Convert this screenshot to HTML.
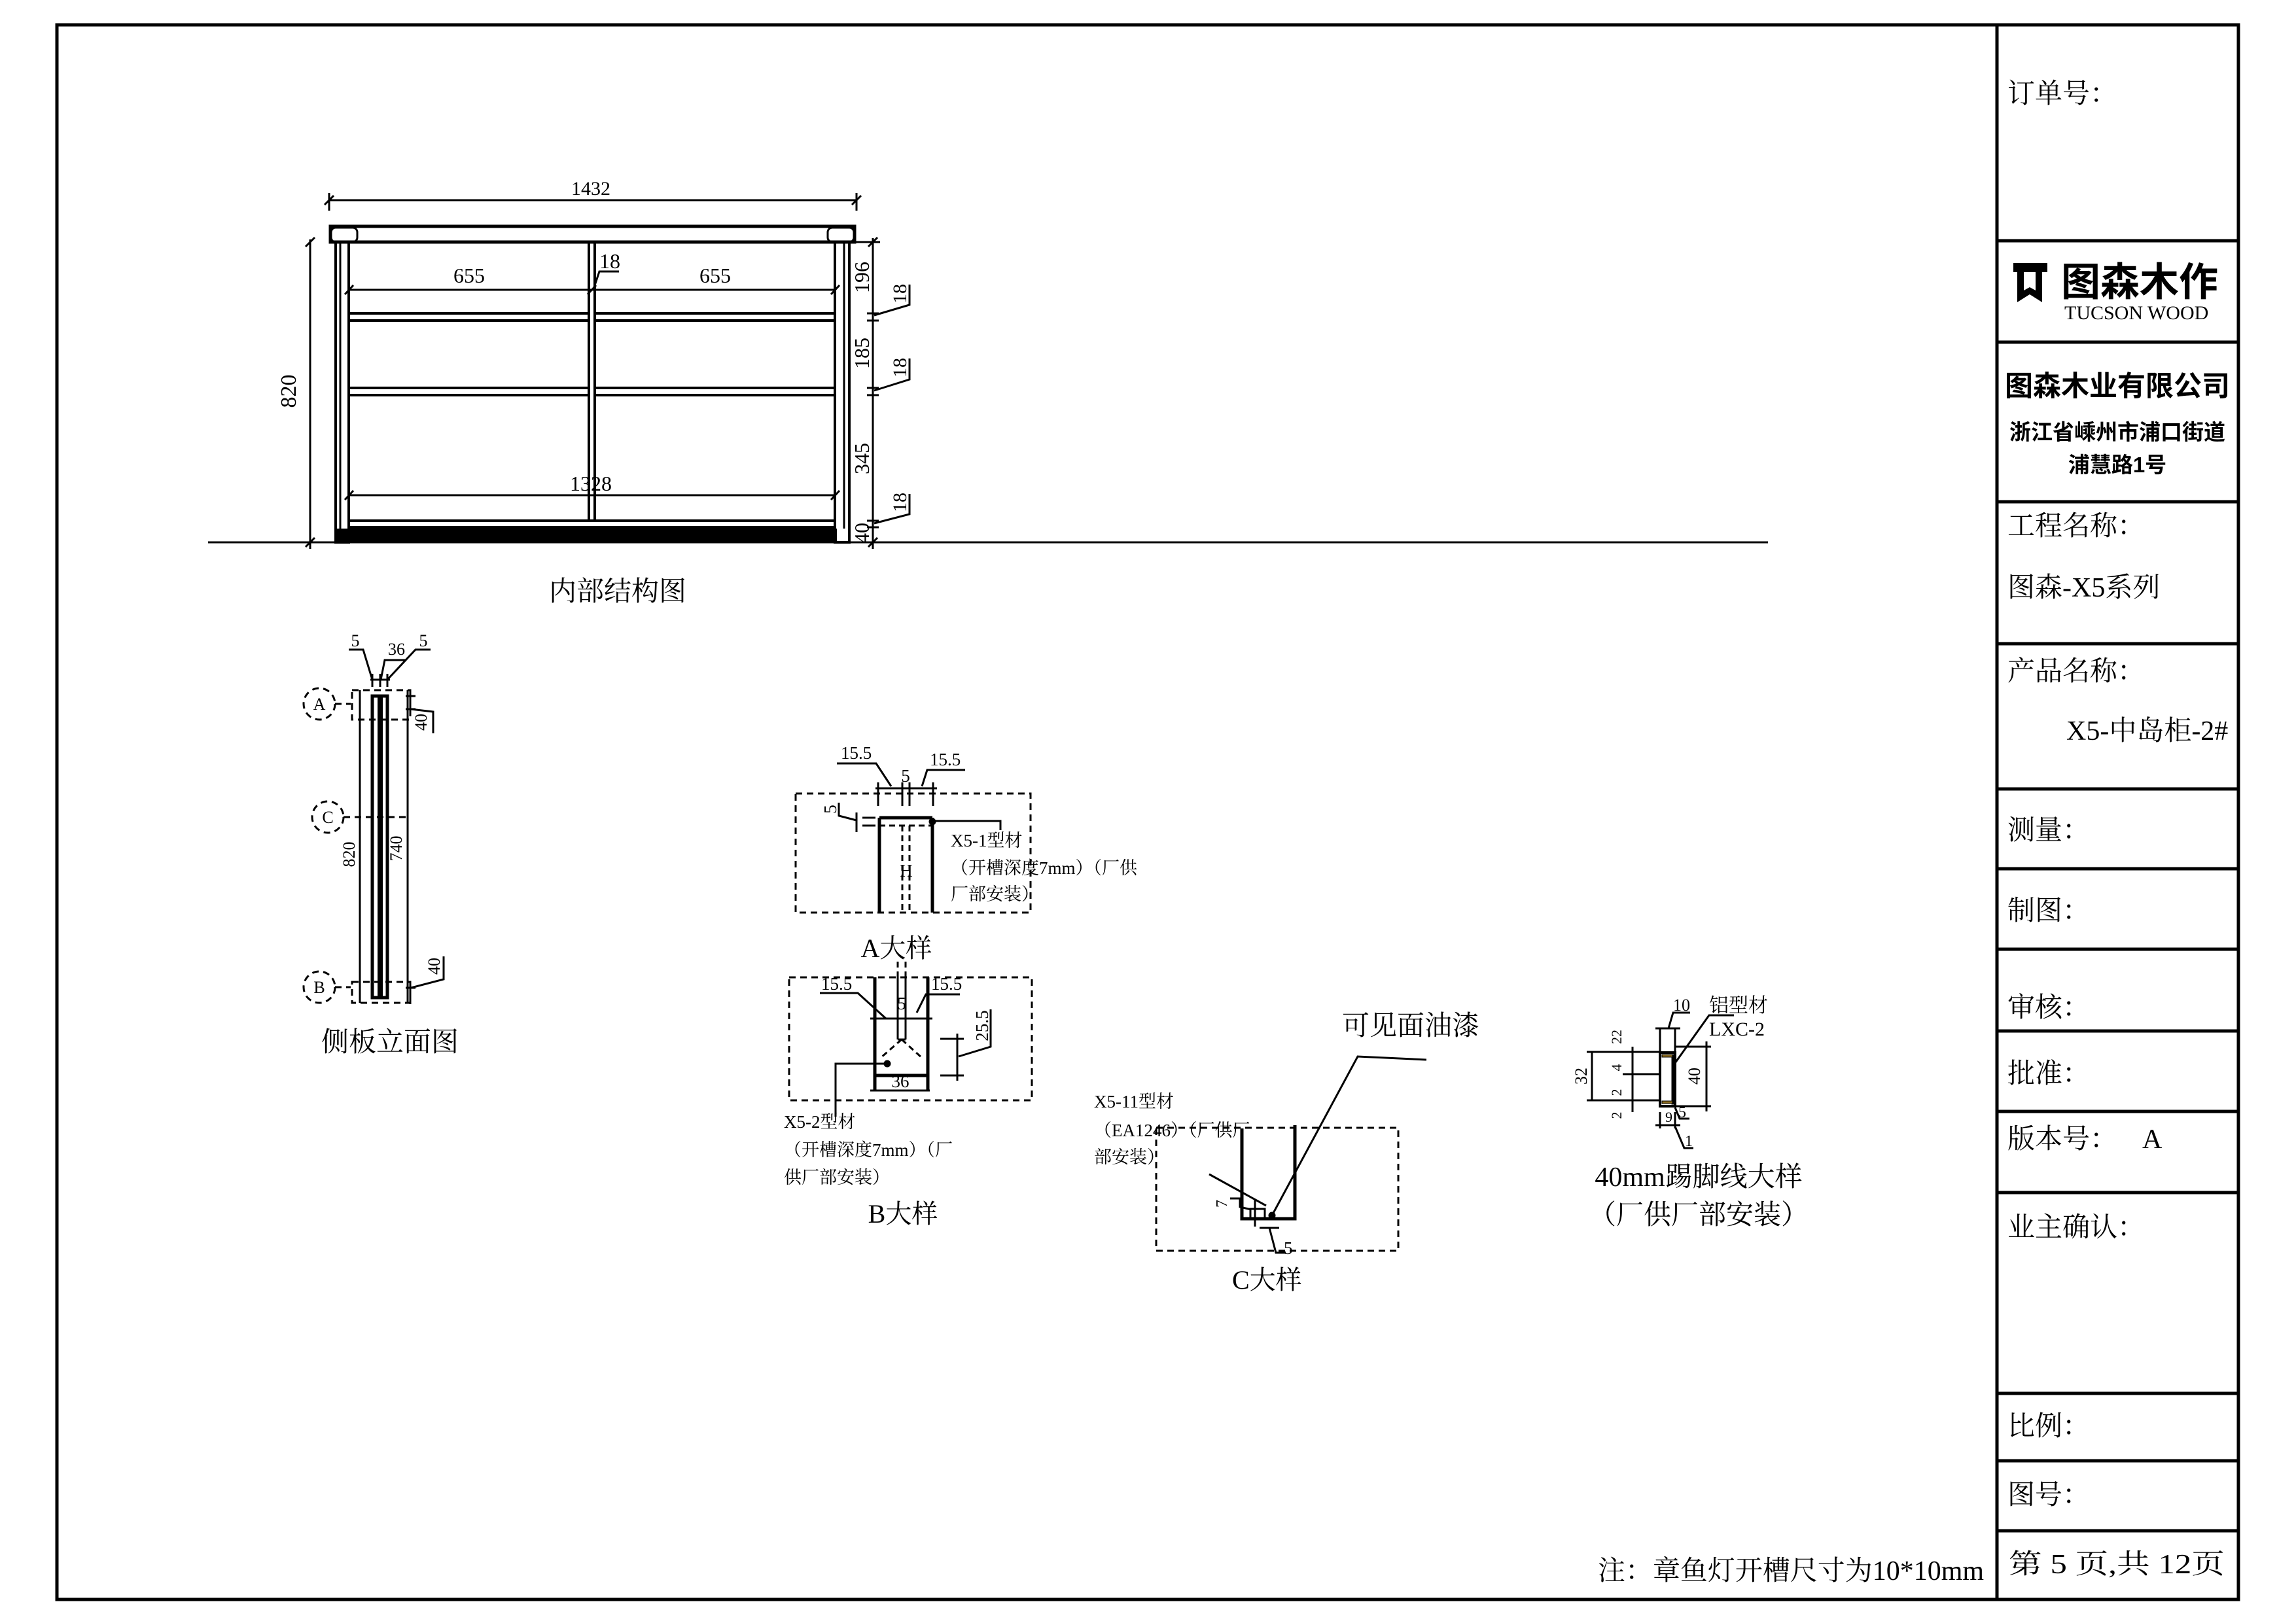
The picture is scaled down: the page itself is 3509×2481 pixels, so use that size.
<!DOCTYPE html>
<html><head><meta charset="utf-8"><style>
html,body{margin:0;padding:0;background:#fff;}
svg{display:block;}
text{font-family:"Liberation Serif","Noto Serif CJK SC",serif;fill:#000;}
.b{font-family:"Liberation Sans","Noto Sans CJK SC",sans-serif;font-weight:bold;}
</style></head><body>
<svg width="3509" height="2481" viewBox="0 0 3509 2481" xmlns="http://www.w3.org/2000/svg">
<rect width="3509" height="2481" fill="#fff"/>
<g fill="none" stroke="#000">
<rect x="87" y="38" width="3334" height="2407" stroke-width="5"/>
<line x1="3052" y1="38" x2="3052" y2="2445" stroke-width="5"/>
<g stroke-width="5">
<line x1="3052" y1="368" x2="3421" y2="368"/>
<line x1="3052" y1="523" x2="3421" y2="523"/>
<line x1="3052" y1="767" x2="3421" y2="767"/>
<line x1="3052" y1="984" x2="3421" y2="984"/>
<line x1="3052" y1="1206" x2="3421" y2="1206"/>
<line x1="3052" y1="1328" x2="3421" y2="1328"/>
<line x1="3052" y1="1451" x2="3421" y2="1451"/>
<line x1="3052" y1="1576" x2="3421" y2="1576"/>
<line x1="3052" y1="1699" x2="3421" y2="1699"/>
<line x1="3052" y1="1823" x2="3421" y2="1823"/>
<line x1="3052" y1="2130" x2="3421" y2="2130"/>
<line x1="3052" y1="2233" x2="3421" y2="2233"/>
<line x1="3052" y1="2340" x2="3421" y2="2340"/>
</g>

<!-- ===== main internal structure ===== -->
<g stroke-width="3">
<line x1="503" y1="306" x2="1309" y2="306"/>
<line x1="503" y1="295" x2="503" y2="322"/><line x1="1309" y1="295" x2="1309" y2="322"/>
<line x1="496" y1="313" x2="510" y2="299"/><line x1="1302" y1="313" x2="1316" y2="299"/>
<rect x="505" y="346" width="801" height="24" stroke-width="5"/>
<rect x="506" y="348" width="40" height="22" rx="7"/>
<rect x="1265" y="348" width="40" height="22" rx="7"/>
<rect x="513" y="370" width="20" height="459" stroke-width="4"/>
<line x1="520" y1="370" x2="520" y2="808"/>
<rect x="1276" y="370" width="22" height="459" stroke-width="4"/>
<line x1="1290" y1="370" x2="1290" y2="808"/>
<rect x="900" y="370" width="9" height="426" stroke-width="4"/>
<rect x="533" y="479" width="367" height="11" stroke-width="4"/><rect x="909" y="479" width="367" height="11" stroke-width="4"/>
<rect x="533" y="593" width="367" height="11" stroke-width="4"/><rect x="909" y="593" width="367" height="11" stroke-width="4"/>
<rect x="533" y="796" width="743" height="10" stroke-width="4"/>
<line x1="318" y1="829" x2="2702" y2="829"/>
<line x1="474" y1="366" x2="474" y2="839"/>
<line x1="467" y1="377" x2="481" y2="363"/><line x1="467" y1="836" x2="481" y2="822"/>
<line x1="533" y1="443" x2="1276" y2="443"/>
<line x1="527" y1="450" x2="540" y2="436"/><line x1="898" y1="450" x2="911" y2="436"/><line x1="1270" y1="450" x2="1283" y2="436"/>
<polyline points="907,442 916,415 946,415"/>
<line x1="533" y1="757" x2="1276" y2="757"/>
<line x1="527" y1="764" x2="540" y2="750"/><line x1="1270" y1="764" x2="1283" y2="750"/>
<line x1="1334" y1="364" x2="1334" y2="839"/>
<line x1="1300" y1="370" x2="1345" y2="370"/>
<line x1="1327" y1="377" x2="1341" y2="363"/>
<line x1="1325" y1="479" x2="1343" y2="479"/><line x1="1325" y1="490" x2="1343" y2="490"/>
<line x1="1325" y1="593" x2="1343" y2="593"/><line x1="1325" y1="604" x2="1343" y2="604"/>
<line x1="1325" y1="796" x2="1343" y2="796"/><line x1="1325" y1="806" x2="1343" y2="806"/>
<line x1="1327" y1="836" x2="1341" y2="822"/>
<polyline points="1336,482 1390,466 1390,435"/>
<polyline points="1336,597 1390,580 1390,548"/>
<polyline points="1336,800 1390,786 1390,755"/>
</g>
<rect x="513" y="808" width="766" height="21" fill="#000" stroke="none"/>

<!-- ===== side panel ===== -->
<g stroke-width="3">
<line x1="550" y1="1055" x2="550" y2="1533"/>
<line x1="623" y1="1055" x2="623" y2="1533"/>
<rect x="569" y="1064" width="23" height="461" stroke-width="5"/>
<rect x="577" y="1066" width="8" height="457" fill="#000" stroke="none"/>
<g stroke-dasharray="10,7">
<rect x="538" y="1055" width="89" height="45"/>
<rect x="538" y="1501" width="89" height="32"/>
<line x1="512" y1="1076" x2="536" y2="1076"/>
<line x1="525" y1="1249" x2="620" y2="1249"/>
<line x1="512" y1="1509" x2="536" y2="1509"/>
<circle cx="488" cy="1076" r="24"/>
<circle cx="501" cy="1249" r="24"/>
<circle cx="488" cy="1509" r="24"/>
</g>
<line x1="566" y1="1039" x2="596" y2="1039"/>
<line x1="569" y1="1030" x2="569" y2="1050"/><line x1="581" y1="1030" x2="581" y2="1050"/><line x1="592" y1="1030" x2="592" y2="1050"/>
<polyline points="533,993 555,993 569,1039"/>
<polyline points="582,1039 588,1009 620,1009"/>
<polyline points="592,1039 635,993 658,993"/>
<line x1="620" y1="1064" x2="635" y2="1064"/><line x1="620" y1="1084" x2="635" y2="1084"/>
<line x1="627" y1="1058" x2="627" y2="1092"/>
<polyline points="628,1084 662,1088 662,1121"/>
<line x1="620" y1="1510" x2="635" y2="1510"/><line x1="627" y1="1500" x2="627" y2="1535"/>
<polyline points="628,1510 678,1497 678,1462"/>
</g>

<!-- ===== A detail ===== -->
<g stroke-width="3">
<rect x="1216" y="1213" width="359" height="182" stroke-dasharray="10,7"/>
<line x1="1344" y1="1250" x2="1344" y2="1395" stroke-width="5"/>
<line x1="1425" y1="1250" x2="1425" y2="1395" stroke-width="5"/>
<line x1="1344" y1="1250" x2="1425" y2="1250" stroke-width="5"/>
<g stroke-dasharray="9,6">
<line x1="1344" y1="1262" x2="1425" y2="1262"/>
<line x1="1379" y1="1262" x2="1379" y2="1395"/>
<line x1="1390" y1="1262" x2="1390" y2="1395"/>
</g>
<line x1="1338" y1="1205" x2="1432" y2="1205"/>
<line x1="1342" y1="1196" x2="1342" y2="1232"/><line x1="1379" y1="1196" x2="1379" y2="1232"/><line x1="1390" y1="1196" x2="1390" y2="1232"/><line x1="1426" y1="1196" x2="1426" y2="1232"/>
<polyline points="1279,1167 1339,1167 1362,1202"/>
<polyline points="1475,1177 1417,1177 1409,1202"/>
<line x1="1318" y1="1250" x2="1338" y2="1250"/><line x1="1318" y1="1262" x2="1338" y2="1262"/>
<line x1="1309" y1="1242" x2="1309" y2="1272"/>
<polyline points="1309,1254 1282,1247 1282,1227"/>
<polyline points="1425,1255 1529,1255 1529,1269"/>
</g>
<circle cx="1425" cy="1256" r="5" fill="#000"/>

<!-- ===== B detail ===== -->
<g stroke-width="3">
<rect x="1206" y="1494" width="371" height="188" stroke-dasharray="10,7"/>
<line x1="1337" y1="1494" x2="1337" y2="1667" stroke-width="5"/>
<line x1="1418" y1="1494" x2="1418" y2="1667" stroke-width="5"/>
<line x1="1337" y1="1644" x2="1418" y2="1644" stroke-width="5"/>
<line x1="1372" y1="1494" x2="1372" y2="1589"/><line x1="1384" y1="1494" x2="1384" y2="1589"/><line x1="1372" y1="1589" x2="1384" y2="1589"/>
<g stroke-dasharray="9,6">
<line x1="1378" y1="1589" x2="1346" y2="1617"/>
<line x1="1378" y1="1589" x2="1409" y2="1617"/>
<line x1="1372" y1="1494" x2="1372" y2="1470"/><line x1="1384" y1="1494" x2="1384" y2="1470"/>
</g>
<line x1="1330" y1="1667" x2="1421" y2="1667"/>
<line x1="1330" y1="1557" x2="1425" y2="1557"/>
<polyline points="1253,1518 1311,1518 1354,1557"/>
<polyline points="1467,1520 1415,1520 1401,1548"/>
<line x1="1437" y1="1588" x2="1473" y2="1588"/><line x1="1437" y1="1644" x2="1473" y2="1644"/>
<line x1="1463" y1="1580" x2="1463" y2="1652"/>
<polyline points="1465,1615 1514,1600 1514,1543"/>
<polyline points="1356,1626 1277,1626 1277,1707"/>
</g>
<circle cx="1356" cy="1626" r="5" fill="#000"/>

<!-- ===== C detail ===== -->
<g stroke-width="3">
<rect x="1767" y="1724" width="370" height="188" stroke-dasharray="10,7"/>
<polyline points="1898,1725 1898,1863 1979,1863 1979,1720" stroke-width="5"/>
<rect x="1911" y="1848" width="22" height="15"/>
<line x1="1848" y1="1795" x2="1935" y2="1843"/>
<polyline points="1944,1858 2075,1615 2180,1620"/>
<line x1="1918" y1="1835" x2="1918" y2="1875"/>
<polyline points="1912,1849 1895,1845 1895,1832 1880,1832"/>
<line x1="1925" y1="1877" x2="1955" y2="1877"/>
<polyline points="1940,1877 1950,1915 1965,1915"/>
</g>
<circle cx="1944" cy="1858" r="5" fill="#000"/>

<!-- ===== Kick detail ===== -->
<g stroke-width="3">
<rect x="2537" y="1609" width="23" height="82" stroke-width="4"/>
<line x1="2537" y1="1572" x2="2537" y2="1609"/><line x1="2560" y1="1572" x2="2560" y2="1609"/>
<line x1="2530" y1="1572" x2="2568" y2="1572"/>
<polyline points="2550,1572 2557,1548 2583,1548"/>
<line x1="2433" y1="1608" x2="2433" y2="1682"/>
<line x1="2425" y1="1608" x2="2537" y2="1608"/>
<line x1="2425" y1="1682" x2="2537" y2="1682"/>
<line x1="2480" y1="1642" x2="2537" y2="1642"/>
<line x1="2495" y1="1600" x2="2495" y2="1700"/>
<line x1="2560" y1="1600" x2="2615" y2="1600"/><line x1="2560" y1="1691" x2="2615" y2="1691"/>
<line x1="2608" y1="1592" x2="2608" y2="1699"/>
<polyline points="2560,1625 2612,1552 2650,1552"/>
<line x1="2537" y1="1700" x2="2537" y2="1725"/><line x1="2560" y1="1700" x2="2560" y2="1725"/>
<line x1="2530" y1="1720" x2="2568" y2="1720"/>
<polyline points="2560,1722 2574,1755 2588,1755"/>
<polyline points="2560,1693 2567,1710 2582,1710"/>
</g>
<rect x="2555" y="1612" width="5" height="76" fill="#000"/>
<rect x="2540" y="1612" width="16" height="4" fill="#8a6a20"/>
<rect x="2540" y="1683" width="16" height="4" fill="#8a6a20"/>
</g>

<!-- logo -->
<path d="M3077 402 h52 v14 h-8 v46 l-19 -12 l-19 12 v-46 h-6 z M3093 416 v28 l9 -5 l9 5 v-28 z" fill="#000" fill-rule="evenodd"/>

<!-- ===== texts ===== -->
<g font-size="30">
<text x="903" y="298" text-anchor="middle">1432</text>
<text x="717" y="432" text-anchor="middle" font-size="32">655</text>
<text x="1093" y="432" text-anchor="middle" font-size="32">655</text>
<text x="916" y="410" font-size="32">18</text>
<text x="903" y="750" text-anchor="middle" font-size="32">1328</text>
<text transform="translate(452,598) rotate(-90)" text-anchor="middle" font-size="34">820</text>
<text transform="translate(1328,424) rotate(-90)" text-anchor="middle" font-size="32">196</text>
<text transform="translate(1328,540) rotate(-90)" text-anchor="middle" font-size="32">185</text>
<text transform="translate(1328,701) rotate(-90)" text-anchor="middle" font-size="32">345</text>
<text transform="translate(1328,815) rotate(-90)" text-anchor="middle" font-size="32">40</text>
<text transform="translate(1385,449) rotate(-90)" text-anchor="middle" font-size="30">18</text>
<text transform="translate(1385,562) rotate(-90)" text-anchor="middle" font-size="30">18</text>
<text transform="translate(1385,768) rotate(-90)" text-anchor="middle" font-size="30">18</text>
</g>
<text x="944" y="918" text-anchor="middle" font-size="42">内部结构图</text>

<g font-size="26">
<text x="543" y="988" text-anchor="middle">5</text><text x="606" y="1001" text-anchor="middle">36</text><text x="647" y="988" text-anchor="middle">5</text>
<text x="488" y="1085" text-anchor="middle">A</text>
<text x="501" y="1258" text-anchor="middle">C</text>
<text x="488" y="1518" text-anchor="middle">B</text>
<text transform="translate(542,1306) rotate(-90)" text-anchor="middle">820</text>
<text transform="translate(614,1297) rotate(-90)" text-anchor="middle">740</text>
<text transform="translate(652,1104) rotate(-90)" text-anchor="middle">40</text>
<text transform="translate(672,1477) rotate(-90)" text-anchor="middle">40</text>
</g>
<text x="596" y="1607" text-anchor="middle" font-size="42">侧板立面图</text>

<g font-size="27">
<text x="1285" y="1160">15.5</text><text x="1421" y="1170">15.5</text><text x="1384" y="1195" text-anchor="middle">5</text>
<text transform="translate(1278,1237) rotate(-90)" text-anchor="middle">5</text>
<text x="1385" y="1340" text-anchor="middle" font-family="Liberation Sans">H</text>
<text x="1453" y="1294">X5-1型材</text>
<text x="1453" y="1336">（开槽深度7mm）（厂供</text>
<text x="1453" y="1376">厂部安装）</text>
<text x="1255" y="1513">15.5</text><text x="1423" y="1513">15.5</text>
<text x="1378" y="1543" text-anchor="middle">5</text>
<text x="1376" y="1662" text-anchor="middle">36</text>
<text transform="translate(1510,1568) rotate(-90)" text-anchor="middle">25.5</text>
<text x="1198" y="1724">X5-2型材</text>
<text x="1198" y="1767">（开槽深度7mm）（厂</text>
<text x="1198" y="1809">供厂部安装）</text>
<text x="1672" y="1693">X5-11型材</text>
<text x="1672" y="1737">（EA1246）（厂供厂</text>
<text x="1672" y="1778">部安装）</text>
<text transform="translate(1875,1840) rotate(-90)" text-anchor="middle" font-size="24">7</text>
<text x="1962" y="1917">5</text>
</g>
<text x="1370" y="1463" text-anchor="middle" font-size="40">A大样</text>
<text x="1380" y="1869" text-anchor="middle" font-size="40">B大样</text>
<text x="1883" y="1970" font-size="40">C大样</text>
<text x="2051" y="1582" font-size="42">可见面油漆</text>

<g font-size="26">
<text x="2557" y="1545">10</text>
<text x="2612" y="1547" font-size="30">铝型材</text>
<text x="2612" y="1583" font-size="30">LXC-2</text>
<text transform="translate(2425,1645) rotate(-90)" text-anchor="middle">32</text>
<text transform="translate(2478,1585) rotate(-90)" text-anchor="middle" font-size="22">22</text>
<text transform="translate(2478,1632) rotate(-90)" text-anchor="middle" font-size="22">4</text>
<text transform="translate(2478,1670) rotate(-90)" text-anchor="middle" font-size="22">2</text>
<text transform="translate(2478,1705) rotate(-90)" text-anchor="middle" font-size="22">2</text>
<text transform="translate(2598,1645) rotate(-90)" text-anchor="middle">40</text>
<text x="2565" y="1708" font-size="24">5</text>
<text x="2545" y="1715" font-size="22">9</text>
<text x="2575" y="1752" font-size="24">1</text>
</g>
<text x="2596" y="1813" text-anchor="middle" font-size="42">40mm踢脚线大样</text>
<text x="2596" y="1871" text-anchor="middle" font-size="42">（厂供厂部安装）</text>

<text x="2442" y="2415" font-size="42" textLength="590" lengthAdjust="spacingAndGlyphs">注：章鱼灯开槽尺寸为10*10mm</text>

<g font-size="42">
<text x="3068" y="157">订单号：</text>
<text x="3068" y="818">工程名称：</text>
<text x="3068" y="912">图森-X5系列</text>
<text x="3068" y="1040">产品名称：</text>
<text x="3158" y="1131">X5-中岛柜-2#</text>
<text x="3068" y="1283">测量：</text>
<text x="3068" y="1406">制图：</text>
<text x="3068" y="1554">审核：</text>
<text x="3068" y="1655">批准：</text>
<text x="3068" y="1755">版本号：</text>
<text x="3274" y="1755">A</text>
<text x="3068" y="1890">业主确认：</text>
<text x="3068" y="2194">比例：</text>
<text x="3068" y="2299">图号：</text>
<text x="3070" y="2405" textLength="330" lengthAdjust="spacingAndGlyphs">第 5 页,共 12页</text>
</g>
<text x="3150" y="452" class="b" font-size="60">图森木作</text>
<text x="3155" y="488" font-family="Liberation Sans" font-size="30">TUCSON WOOD</text>
<text x="3236" y="605" class="b" font-size="43" text-anchor="middle">图森木业有限公司</text>
<text x="3236" y="672" class="b" font-size="33" text-anchor="middle">浙江省嵊州市浦口街道</text>
<text x="3236" y="722" class="b" font-size="33" text-anchor="middle">浦慧路1号</text>
</svg>
</body></html>
